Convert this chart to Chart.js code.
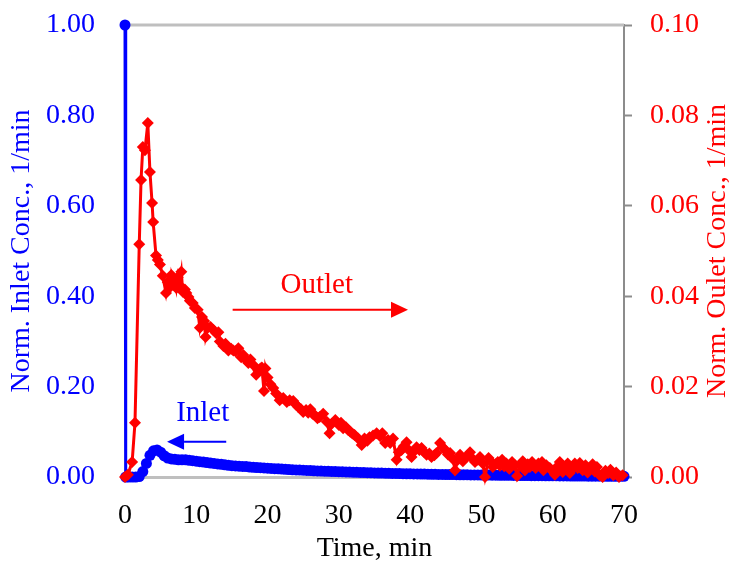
<!DOCTYPE html>
<html>
<head>
<meta charset="utf-8">
<script src="https://cdn.jsdelivr.net/npm/chart.js@4/dist/chart.umd.min.js"></script>
<style>
  html, body { margin: 0; padding: 0; background: #fff; }
  canvas { display: block; }
</style>
</head>
<body>
<canvas id="rtd" width="740" height="565"></canvas>
<script>
"use strict";

// inlet pulse, normalised concentration (left axis)
const inletTime = [0, 0.1, 0.5, 1, 1.5, 2, 2.5, 3, 3.5, 4, 4.5, 5, 5.5, 6, 6.5, 7, 7.5, 8, 8.5, 9, 9.5,
  10, 10.5, 11, 11.5, 12, 12.5, 13, 13.5, 14, 14.5, 15, 15.5, 16, 16.5, 17, 17.5, 18, 18.5, 19, 19.5,
  20, 20.5, 21, 21.5, 22, 22.5, 23, 23.5, 24, 24.5, 25, 25.5, 26, 26.5, 27, 27.5, 28, 28.5, 29, 29.5,
  30, 30.5, 31, 31.5, 32, 32.5, 33, 33.5, 34, 34.5, 35, 35.5, 36, 36.5, 37, 37.5, 38, 38.5, 39, 39.5,
  40, 40.5, 41, 41.5, 42, 42.5, 43, 43.5, 44, 44.5, 45, 45.5, 46, 46.5, 47, 47.5, 48, 48.5, 49, 49.5,
  50, 50.5, 51, 51.5, 52, 52.5, 53, 53.5, 54, 54.5, 55, 55.5, 56, 56.5, 57, 57.5, 58, 58.5, 59, 59.5,
  60, 60.5, 61, 61.5, 62, 62.5, 63, 63.5, 64, 64.5, 65, 65.5, 66, 66.5, 67, 67.5, 68, 68.5, 69, 69.5, 70];
const inletConc = [1.000, 0.000, 0.000, 0.000, 0.000, 0.001, 0.012, 0.030, 0.048, 0.058, 0.060, 0.055, 0.047, 0.042, 0.040, 0.039, 0.038, 0.038, 0.038, 0.037, 0.036,
  0.035, 0.034, 0.033, 0.032, 0.031, 0.030, 0.029, 0.028, 0.027, 0.026, 0.025, 0.0245, 0.024, 0.0235, 0.023, 0.022, 0.0215, 0.021, 0.0205, 0.020,
  0.0195, 0.019, 0.0185, 0.018, 0.0175, 0.017, 0.0165, 0.016, 0.0157, 0.0153, 0.015, 0.0146, 0.0142, 0.0138, 0.0135, 0.0132, 0.0129, 0.0126, 0.0123, 0.012,
  0.0118, 0.0115, 0.0112, 0.011, 0.0107, 0.0104, 0.0101, 0.0098, 0.0095, 0.0093, 0.009, 0.0088, 0.0086, 0.0084, 0.0082, 0.008, 0.0078, 0.0076, 0.0074, 0.0072,
  0.007, 0.0069, 0.0067, 0.0066, 0.0064, 0.0063, 0.0061, 0.006, 0.0058, 0.0057, 0.0055, 0.0054, 0.0053, 0.0052, 0.005, 0.0049, 0.0048, 0.0047, 0.0046, 0.0045,
  0.0044, 0.0043, 0.0042, 0.0041, 0.004, 0.0039, 0.0038, 0.0037, 0.0036, 0.0035, 0.0034, 0.0033, 0.0032, 0.0031, 0.003, 0.0029, 0.0028, 0.0028, 0.0027, 0.0026,
  0.0025, 0.0025, 0.0024, 0.0023, 0.0023, 0.0022, 0.0021, 0.0021, 0.002, 0.002, 0.0019, 0.0018, 0.0018, 0.0017, 0.0017, 0.0016, 0.0016, 0.0015, 0.0015, 0.0014, 0.0014];

// outlet response (right axis)
const outletTime = [0, 0.4, 1.0, 1.4, 2.0, 2.25, 2.5, 2.8, 3.2, 3.5, 3.8, 3.95, 4.35, 4.6, 4.9, 5.3, 5.75, 6.0, 6.3, 6.5, 6.8, 7.0,
  7.2, 7.4, 7.6, 7.9, 8.1, 8.4, 8.6, 8.9, 9.1, 9.5, 9.8, 10.2, 10.5, 10.8, 11.1, 11.3, 11.6, 12.0, 12.4, 12.8, 13.1, 13.3, 13.8, 14.1, 14.5, 14.9, 15.2, 15.5, 15.9,
  16.3, 16.6, 16.9, 17.3, 17.6, 18.0, 18.4, 18.7, 19.0, 19.2, 19.5, 19.7, 20.0, 20.4, 20.8, 21.2, 21.7, 22.2, 22.7, 23.1, 23.6, 24.0, 24.3, 24.7, 25.0, 25.4, 25.7,
  26.0, 26.3, 26.6, 27.0, 27.3, 27.8, 28.3, 28.7, 29.0, 29.5, 30.0, 30.3, 30.6, 31.0, 31.3, 31.6, 31.9, 32.2, 32.7, 33.2, 33.6, 34.0, 34.3, 34.8, 35.3, 35.8, 36.1,
  36.5, 36.9, 37.2, 37.6, 38.1, 38.4, 38.8, 39.1, 39.5, 39.9, 40.2, 40.5, 40.9, 41.3, 41.6, 42.0, 42.3, 42.7, 43.0, 43.4, 43.7, 44.2, 44.6, 44.9, 45.3, 45.6, 46.0, 46.3, 46.7, 47.0, 47.4, 47.7, 48.1, 48.4, 48.8, 49.1,
  49.5, 49.8, 50.2, 50.5, 51.0, 51.3, 51.6, 52.0, 52.3, 52.6, 52.9, 53.2, 53.5, 53.9, 54.3, 54.7, 55.0, 55.4, 55.8, 56.1, 56.5, 56.8, 57.1, 57.6, 58.0, 58.5, 58.7, 59.1, 59.6, 60.0, 60.3, 60.7, 61.0, 61.4, 61.8, 62.1, 62.4, 62.8,
  63.1, 63.5, 63.8, 64.2, 64.6, 64.9, 65.2, 65.6, 65.9, 66.2, 66.6, 67.0, 67.4, 67.8, 68.1, 68.5, 68.9, 69.3, 69.8];
const outletConc = [0.0000, 0.0005, 0.0033, 0.0120, 0.0515, 0.0657, 0.0730, 0.0723, 0.0783, 0.0675, 0.0606, 0.0564, 0.0490, 0.0480, 0.0470, 0.0445, 0.0407, 0.0431, 0.0420, 0.0447, 0.0428, 0.0436,
  0.0418, 0.0442, 0.0425, 0.0454, 0.0410, 0.0415, 0.0407, 0.0398, 0.0390, 0.0385, 0.0374, 0.0370, 0.0330, 0.0354, 0.0345, 0.0310, 0.0330, 0.0332, 0.0325, 0.0318, 0.0320, 0.0300, 0.0290, 0.0295, 0.0280, 0.0284, 0.0280, 0.0278, 0.0285,
  0.0265, 0.0270, 0.0260, 0.0252, 0.0260, 0.0248, 0.0226, 0.0235, 0.0240, 0.0242, 0.0190, 0.0240, 0.0220, 0.0205, 0.0197, 0.0185, 0.0170, 0.0175, 0.0166, 0.0170, 0.0168, 0.0160, 0.0155, 0.0150, 0.0144, 0.0148, 0.0142,
  0.0150, 0.0140, 0.0137, 0.0130, 0.0133, 0.0140, 0.0122, 0.0097, 0.0118, 0.0126, 0.0115, 0.0120, 0.0108, 0.0110, 0.0104, 0.0100, 0.0096, 0.0093, 0.0085, 0.0071, 0.0085, 0.0080, 0.0088, 0.0092, 0.0097, 0.0090, 0.0097,
  0.0075, 0.0082, 0.0075, 0.0085, 0.0038, 0.0055, 0.0060, 0.0068, 0.0077, 0.0058, 0.0044, 0.0056, 0.0066, 0.0060, 0.0064, 0.0055, 0.0049, 0.0052, 0.0044, 0.0048, 0.0053, 0.0075, 0.0065, 0.0060, 0.0050, 0.0053, 0.0040, 0.0015, 0.0038, 0.0049, 0.0035, 0.0042, 0.0048, 0.0055, 0.0040, 0.0033,
  0.0038, 0.0044, 0.0030, 0.0000, 0.0042, 0.0035, 0.0022, 0.0028, 0.0033, 0.0025, 0.0038, 0.0024, 0.0030, 0.0018, 0.0033, 0.0026, 0.0002, 0.0026, 0.0035, 0.0015, 0.0028, 0.0022, 0.0033, 0.0020, 0.0030, 0.0033, 0.0015, 0.0026, 0.0020, 0.0012, 0.0005, 0.0024, 0.0033, 0.0011, 0.0022, 0.0030, 0.0009, 0.0018,
  0.0030, 0.0020, 0.0031, 0.0015, 0.0026, 0.0010, 0.0020, 0.0028, 0.0012, 0.0022, 0.0004, 0.0000, 0.0014, 0.0009, 0.0016, 0.0004, 0.0010, 0.0000, 0.0004];

const timeTicks = [0, 10, 20, 30, 40, 50, 60, 70];

const BLUE = "#0000ff";
const RED = "#ff0000";
const FONT = "'Liberation Serif', 'Times New Roman', serif";

const pts = (xs, ys) => xs.map((x, i) => ({ x: x, y: ys[i] }));

function arrow(ctx, x1, x2, y, color) {
  const dir = Math.sign(x2 - x1);
  const head = 17;
  ctx.save();
  ctx.strokeStyle = color;
  ctx.fillStyle = color;
  ctx.lineWidth = 2;
  ctx.beginPath();
  ctx.moveTo(x1, y);
  ctx.lineTo(x2 - dir * head, y);
  ctx.stroke();
  ctx.beginPath();
  ctx.moveTo(x2, y);
  ctx.lineTo(x2 - dir * head, y - 8);
  ctx.lineTo(x2 - dir * head, y + 8);
  ctx.closePath();
  ctx.fill();
  ctx.restore();
}

// fixed axis boxes so the plot area sits where it should
function fitY(width) {
  return (s) => {
    s.width = width;
    s.paddingTop = 0;
    s.paddingBottom = 0;
  };
}

// top frame line, right-hand axis title (reads bottom-to-top), labels with arrows
const notes = {
  id: "notes",
  beforeDatasetsDraw(chart) {
    const { ctx, chartArea } = chart;
    ctx.save();
    ctx.strokeStyle = "#bfbfbf";
    ctx.lineWidth = 3;
    ctx.beginPath();
    ctx.moveTo(chartArea.left, chartArea.top);
    ctx.lineTo(chartArea.right, chartArea.top);
    ctx.stroke();

    ctx.translate(chart.width - 22, (chartArea.top + chartArea.bottom) / 2);
    ctx.rotate(-Math.PI / 2);
    ctx.font = "28px " + FONT;
    ctx.fillStyle = RED;
    ctx.textAlign = "center";
    ctx.textBaseline = "middle";
    ctx.fillText("Norm. Oulet Conc., 1/min", 0, 0);
    ctx.restore();
  },
  afterDatasetsDraw(chart) {
    const { ctx } = chart;
    const x = chart.scales.x, yIn = chart.scales.yIn, yOut = chart.scales.yOut;
    ctx.save();
    ctx.font = "29px " + FONT;
    ctx.textAlign = "center";
    ctx.textBaseline = "middle";
    ctx.fillStyle = RED;
    ctx.fillText("Outlet", x.getPixelForValue(26.9), yOut.getPixelForValue(0.0425));
    arrow(ctx, x.getPixelForValue(15.1), x.getPixelForValue(39.7), yOut.getPixelForValue(0.037), RED);
    ctx.fillStyle = BLUE;
    ctx.fillText("Inlet", x.getPixelForValue(10.9), yIn.getPixelForValue(0.14));
    arrow(ctx, x.getPixelForValue(14.2), x.getPixelForValue(5.9), yIn.getPixelForValue(0.078), BLUE);
    ctx.restore();
  }
};

Chart.defaults.font.family = FONT;
Chart.defaults.font.size = 28;

new Chart(document.getElementById("rtd"), {
  type: "scatter",
  data: {
    datasets: [
      {
        label: "Outlet",
        data: pts(outletTime, outletConc),
        yAxisID: "yOut",
        showLine: true,
        borderColor: RED,
        backgroundColor: RED,
        borderWidth: 3,
        pointStyle: "rectRot",
        pointRadius: 6,
        pointBorderWidth: 0,
        clip: false
      },
      {
        label: "Inlet",
        data: pts(inletTime, inletConc),
        yAxisID: "yIn",
        showLine: true,
        borderColor: BLUE,
        backgroundColor: BLUE,
        borderWidth: 3,
        pointStyle: "circle",
        pointRadius: 5.5,
        pointBorderWidth: 0,
        clip: false
      }
    ]
  },
  options: {
    responsive: false,
    animation: false,
    layout: { autoPadding: false, padding: { top: 25, left: 0, right: 0, bottom: 0 } },
    plugins: { legend: { display: false }, tooltip: { enabled: false } },
    scales: {
      x: {
        type: "linear",
        min: 0,
        max: 70,
        afterBuildTicks: (s) => { s.ticks = timeTicks.map(v => ({ value: v })); },
        afterFit: (s) => { s.height = 88; s.paddingLeft = 0; s.paddingRight = 0; },
        border: { color: "#bfbfbf", width: 3 },
        grid: { drawOnChartArea: false, drawTicks: false },
        ticks: { color: "#000", padding: 22, maxRotation: 0 },
        title: { display: true, text: "Time, min", color: "#000", padding: { top: 0, bottom: 0 } }
      },
      yIn: {
        position: "left",
        min: 0,
        max: 1,
        afterFit: fitY(125),
        border: { color: "#bfbfbf", width: 3 },
        grid: { drawOnChartArea: false, drawTicks: false },
        ticks: { stepSize: 0.2, color: BLUE, padding: 30, callback: (v) => v.toFixed(2) },
        title: { display: true, text: "Norm. Inlet Conc., 1/min", color: BLUE, padding: { top: 5, bottom: 0 } }
      },
      yOut: {
        position: "right",
        min: 0,
        max: 0.1,
        afterFit: fitY(116),
        border: { color: "#8c8c8c", width: 2 },
        grid: { drawOnChartArea: false, drawTicks: true, tickLength: 8, color: "#8c8c8c", tickWidth: 2 },
        ticks: { stepSize: 0.02, color: RED, padding: 18, callback: (v) => v.toFixed(2) }
      }
    }
  },
  plugins: [notes]
});
</script>
</body>
</html>
